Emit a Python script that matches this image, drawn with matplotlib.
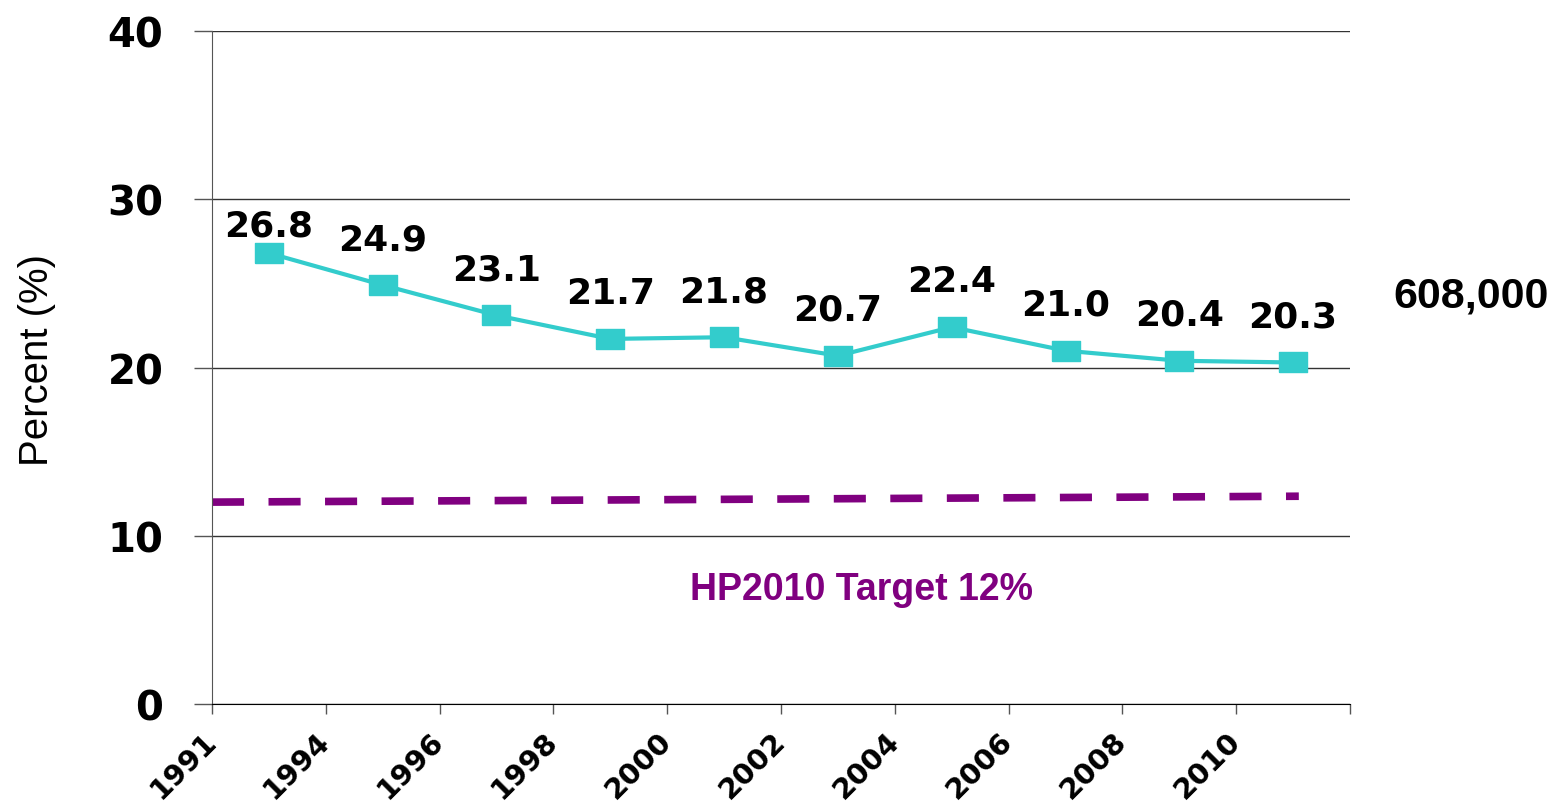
import matplotlib.pyplot as plt

# data
years = ['1991', '1994', '1996', '1998', '2000', '2002', '2004', '2006', '2008', '2010']
percent = [26.8, 24.9, 23.1, 21.7, 21.8, 20.7, 22.4, 21.0, 20.4, 20.3]
target_x = [-0.5, 9.05]
target_y = [12.0, 12.35]
y_ticks = [0, 10, 20, 30, 40]

teal = '#33CCCC'
purple = '#800080'

fig = plt.figure(figsize=(15.53, 8.04), dpi=100)
ax = fig.add_axes([0.1365, 0.1231, 0.7328, 0.8371])

x = list(range(len(percent)))
box = [(-1, -0.72), (1, -0.72), (1, 0.72), (-1, 0.72), (-1, -0.72)]
ax.plot(x, percent, color=teal, lw=3, marker=box, markersize=20,
        markerfacecolor=teal, markeredgecolor=teal, zorder=3)
ax.plot(target_x, target_y, color=purple, lw=5.5, dashes=(4.2, 3.2),
        dash_capstyle='butt', zorder=2)

# value labels above the points
for i, v in enumerate(percent):
    off = 20 if i == 0 else 33
    ax.annotate(f'{v:.1f}', (i, v), xytext=(0, off), textcoords='offset points',
                ha='center', va='center', fontsize=26, fontweight='heavy',
                family='DejaVu Sans')

ax.set_xlim(-0.5, 9.5)
ax.set_ylim(0, 40)
ax.set_yticks(y_ticks)
ax.set_yticklabels([str(t) for t in y_ticks], fontsize=29, fontweight='heavy',
                   family='DejaVu Sans')
ax.set_xticks([i - 0.5 for i in range(len(years) + 1)])
ax.set_xticklabels(years + [''], rotation=45, ha='right', va='center',
                   rotation_mode='anchor', fontsize=21, fontweight='heavy',
                   family='DejaVu Sans')
ax.tick_params(axis='y', length=13, width=1, color='#555555', pad=22)
ax.tick_params(axis='x', length=7, width=1, color='#555555', pad=16)
for lab in ax.get_xticklabels():
    lab.set_x(lab.get_position()[0])

ax.yaxis.grid(True, color='#333333', lw=1)
ax.set_axisbelow(True)
for s in ['top', 'right']:
    ax.spines[s].set_visible(False)
ax.spines['left'].set_color('#555555')
ax.spines['bottom'].set_color('black')

fig.text(37 / 1553, 1 - 360 / 804, 'Percent (%)', rotation=90, ha='center',
         va='center', fontsize=29, family='Liberation Sans')
fig.text(1393 / 1553, 1 - 297 / 804, '608,000', ha='left', va='center',
         fontsize=31, fontweight='bold', family='Liberation Sans')
ax.text(0.571, 0.171, 'HP2010 Target 12%', transform=ax.transAxes,
        ha='center', va='center', fontsize=27, fontweight='bold',
        color=purple, family='Liberation Sans')

fig.savefig('out.png', dpi=100)
